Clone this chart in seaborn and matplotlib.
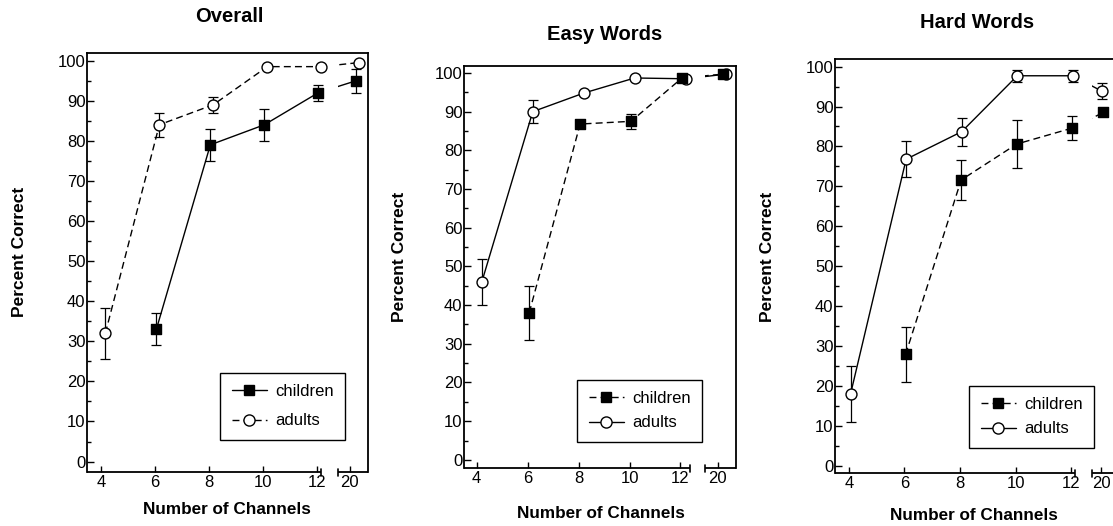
import numpy as np
import pandas as pd
import matplotlib
matplotlib.use("Agg")
import matplotlib.pyplot as plt
import seaborn as sns
from matplotlib.lines import Line2D
from matplotlib.patches import Rectangle
from matplotlib.ticker import MultipleLocator

# ---------------- data ----------------
CHANNEL_LABELS = ["4", "6", "8", "10", "12", "20"]
GROUPS = ["children", "adults"]
TITLES = ["Overall", "Easy Words", "Hard Words"]
Y_LABEL = "Percent Correct"
X_LABEL = "Number of Channels"
Y_TICKS = [0, 10, 20, 30, 40, 50, 60, 70, 80, 90, 100]

nan = np.nan
overall_children = [nan, 33, 79, 84, 92, 95]
overall_children_err = [nan, 4, 4, 4, 2, 3]
overall_adults = [32, 84, 89, 98.5, 98.5, 99.5]
overall_adults_err = [6.4, 3, 2, 0, 0, 0]

easy_children = [nan, 38, 86.8, 87.5, 98.7, 99.7]
easy_children_err = [nan, 7, 0, 2, 0, 0]
easy_adults = [46, 90, 94.8, 98.7, 98.5, 99.7]
easy_adults_err = [6, 3, 0, 0, 0, 0]

hard_children = [nan, 27.9, 71.6, 80.6, 84.6, 88.5]
hard_children_err = [nan, 6.9, 5, 6, 3, 0]
hard_adults = [18, 76.8, 83.7, 97.7, 97.7, 93.8]
hard_adults_err = [7, 4.5, 3.5, 1.5, 1.5, 2]

SERIES = [
    {"children": (overall_children, overall_children_err), "adults": (overall_adults, overall_adults_err)},
    {"children": (easy_children, easy_children_err), "adults": (easy_adults, easy_adults_err)},
    {"children": (hard_children, hard_children_err), "adults": (hard_adults, hard_adults_err)},
]

# ---------------- layout / style ----------------
W, H = 1113, 526
LAYOUT = [
    dict(rect=(87, 53, 368, 472), xlim=(3.49, 13.9), ylim=(-2.6, 101.9), tick20=13.23,
         brk=(12.15, 12.79), dx={"children": 0.06, "adults": 0.17}, dx20={"children": 0.24, "adults": 0.32},
         ls={"children": "solid", "adults": "dashed"},
         title=(229, 17), ylab=(20, 252), xlab=(227, 510), leg=(220, 440), lspace=0.85),
    dict(rect=(464, 66, 736, 468), xlim=(3.5, 14.18), ylim=(-2.1, 101.8), tick20=13.47,
         brk=(12.37, 12.96), dx={"children": 0.06, "adults": 0.2}, dx20={"children": 0.2, "adults": 0.32},
         ls={"children": "dashed", "adults": "solid"},
         title=(605, 35), ylab=(400, 257), xlab=(601, 513), leg=(577, 442), lspace=0.55),
    dict(rect=(835, 59, 1124, 473), xlim=(3.5, 13.9), ylim=(-1.8, 101.9), tick20=13.08,
         brk=(12.14, 12.76), dx={"children": 0.04, "adults": 0.06}, dx20={"children": 0.07, "adults": 0.03},
         ls={"children": "dashed", "adults": "solid"},
         title=(977, 23), ylab=(767, 257), xlab=(974, 515), leg=(969, 448), lspace=0.55),
]
DASH = (0, (5, 3))
MARKER = {"children": "s", "adults": "o"}
FACE = {"children": "black", "adults": "white"}
SIZE = {"children": 50, "adults": 62}

sns.set_theme(style="ticks")
plt.rcParams["font.family"] = ["Liberation Sans", "DejaVu Sans"]
plt.rcParams.update({
    "text.color": "black", "axes.labelcolor": "black", "xtick.color": "black",
    "ytick.color": "black", "axes.edgecolor": "black",
})

fig = plt.figure(figsize=(W / 100, H / 100), dpi=100)

for title, series, lay in zip(TITLES, SERIES, LAYOUT):
    l, t, r, b = lay["rect"]
    ax = fig.add_axes([l / W, 1 - b / H, (r - l) / W, (b - t) / H])
    tickpos = [4, 6, 8, 10, 12, lay["tick20"]]

    rows = []
    for g in GROUPS:
        vals, errs = series[g]
        for i, lab in enumerate(CHANNEL_LABELS):
            if np.isnan(vals[i]):
                continue
            off = lay["dx20"][g] if i == 5 else lay["dx"][g]
            rows.append(dict(group=g, channel=lab, x=tickpos[i] + off, y=vals[i], err=errs[i]))
    df = pd.DataFrame(rows)

    x0, x1 = lay["xlim"]
    y0, y1 = lay["ylim"]
    clips = [(x0 - 1, lay["brk"][0]), (lay["brk"][1], x1 + 1)]

    for g in ["adults", "children"]:
        sub = df[df.group == g]
        # connecting lines, broken at the axis break
        for cx0, cx1 in clips:
            n_before = len(ax.lines)
            sns.lineplot(data=sub, x="x", y="y", ax=ax, color="black", lw=1.0,
                         estimator=None, errorbar=None, sort=True, zorder=2)
            line = ax.lines[n_before]
            if lay["ls"][g] == "dashed":
                line.set_linestyle(DASH)
            rect = Rectangle((cx0, y0 - 50), cx1 - cx0, 300, transform=ax.transData)
            line.set_clip_path(rect)
        # error bars
        se = sub[sub.err > 0]
        ax.errorbar(se.x, se.y, yerr=se.err, fmt="none", ecolor="black",
                    elinewidth=0.9, capsize=3.6, capthick=0.9, zorder=2.5)
    for g in ["adults", "children"]:
        sub = df[df.group == g]
        sns.scatterplot(data=sub, x="x", y="y", ax=ax, marker=MARKER[g], s=SIZE[g],
                        color=FACE[g], edgecolor="black", linewidth=1.0, zorder=4)

    ax.set_xlim(x0, x1)
    ax.set_ylim(y0, y1)
    ax.set_xticks(tickpos, CHANNEL_LABELS)
    ax.set_yticks(Y_TICKS)
    ax.yaxis.set_minor_locator(MultipleLocator(5))
    ax.tick_params(axis="both", which="both", direction="in", width=1.0, labelsize=12)
    ax.tick_params(axis="y", which="major", length=5, pad=1)
    ax.tick_params(axis="y", which="minor", length=3)
    ax.tick_params(axis="x", which="major", length=4, pad=2)
    ax.set_xlabel("")
    ax.set_ylabel("")
    for s in ["top", "left", "right"]:
        ax.spines[s].set_visible(True)
        ax.spines[s].set_linewidth(1.3)
        ax.spines[s].set_color("black")
    ax.spines["bottom"].set_visible(False)

    # broken bottom axis
    xt = ax.get_xaxis_transform()
    d = 3.5 / (b - t)
    ax.plot([x0, lay["brk"][0]], [0, 0], transform=xt, color="black", lw=1.3, clip_on=False,
            solid_capstyle="butt")
    ax.plot([lay["brk"][1], x1], [0, 0], transform=xt, color="black", lw=1.3, clip_on=False,
            solid_capstyle="butt")
    for bx in lay["brk"]:
        ax.plot([bx, bx], [-d, d], transform=xt, color="black", lw=1.2, clip_on=False)

    # legend
    handles = [
        Line2D([], [], color="black", lw=1.0, linestyle=DASH if lay["ls"][g] == "dashed" else "-",
               marker=MARKER[g], markersize=7.5 if g == "children" else 8,
               markerfacecolor=FACE[g], markeredgecolor="black", markeredgewidth=1.0)
        for g in GROUPS
    ]
    lx, ly = lay["leg"]
    leg = ax.legend(handles, GROUPS, loc="lower left", bbox_to_anchor=(lx / W, 1 - ly / H),
                    bbox_transform=fig.transFigure, borderaxespad=0, frameon=True,
                    fancybox=False, framealpha=1, edgecolor="black", fontsize=12,
                    borderpad=0.7, handlelength=2.1, handletextpad=0.5,
                    labelspacing=lay["lspace"])
    leg.get_frame().set_linewidth(1.0)

    fig.text(lay["title"][0] / W, 1 - lay["title"][1] / H, title, ha="center", va="center",
             fontsize=14.5, fontweight="bold")
    fig.text(lay["ylab"][0] / W, 1 - lay["ylab"][1] / H, Y_LABEL, ha="center", va="center",
             rotation=90, fontsize=12.5, fontweight="bold")
    fig.text(lay["xlab"][0] / W, 1 - lay["xlab"][1] / H, X_LABEL, ha="center", va="center",
             fontsize=12.3, fontweight="bold")

fig.savefig("out.png", dpi=100)
